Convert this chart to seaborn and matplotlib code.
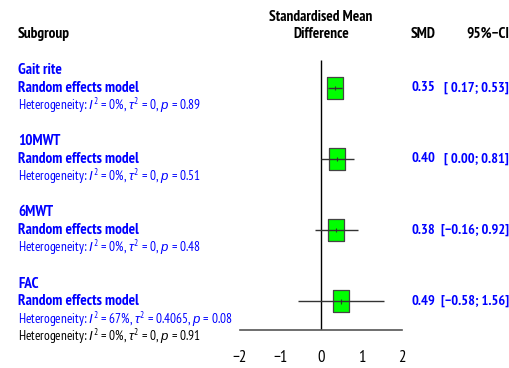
import matplotlib
matplotlib.use("Agg")
import matplotlib.pyplot as plt
import matplotlib.transforms as mtransforms
import seaborn as sns
import pandas as pd

# ---------------- data ----------------
subgroups = ["Gait rite", "10MWT", "6MWT", "FAC"]
smd = [0.35, 0.40, 0.38, 0.49]
ci_lower = [0.17, 0.00, -0.16, -0.58]
ci_upper = [0.53, 0.81, 0.92, 1.56]
het_i2 = ["0%", "0%", "0%", "67%"]
het_tau2 = ["0", "0", "0", "0.4065"]
het_p = ["0.89", "0.51", "0.48", "0.08"]
overall_i2, overall_tau2, overall_p = "0%", "0", "0.91"
x_ticks = [-2, -1, 0, 1, 2]

sns.set_style("white")
FONT = ["Liberation Sans Narrow", "Arial Narrow", "PT Sans Narrow", "Liberation Sans", "DejaVu Sans"]
plt.rcParams["font.family"] = FONT
plt.rcParams["mathtext.fontset"] = "custom"
plt.rcParams["mathtext.rm"] = "PT Sans Narrow"
plt.rcParams["mathtext.it"] = "Liberation Sans:italic"

BLUE = "#0000FF"
FS_B = 11.0
FS_R = 9.5
FS_NUM = 10.4

rows = []
for i, g in enumerate(subgroups):
    base = 4 * i
    rows.append(dict(label=g, k_label=base, k_model=base + 1, k_het=base + 2))
overall_k = 4 * len(subgroups) - 1

df = pd.DataFrame({
    "subgroup": subgroups,
    "smd": smd,
    "lo": ci_lower,
    "hi": ci_upper,
    "row": [r["k_model"] for r in rows],
})

W, H = 510, 368
fig = plt.figure(figsize=(W / 100, H / 100), dpi=100)

x0_px, x1_px = 240, 402
axis_px = 330
line0_px, line_step = 70, 17.8
k_bottom = (axis_px - line0_px) / line_step
k_top = (0 - line0_px) / line_step

ax = fig.add_axes([x0_px / W, 1 - axis_px / H, (x1_px - x0_px) / W, axis_px / H])

rect = [(-0.77, -1), (0.77, -1), (0.77, 1), (-0.77, 1), (-0.77, -1)]
sns.scatterplot(data=df, x="smd", y="row", marker=rect, s=230, color="#00FF00",
                edgecolor="#444444", linewidth=0.9, ax=ax, zorder=3, legend=False)
ax.hlines(df["row"], df["lo"], df["hi"], color="#333333", lw=1.0, zorder=4)
ax.vlines(df["smd"], df["row"] - 0.12, df["row"] + 0.12, color="#333333", lw=0.8, zorder=4)

ax.set_xlim(-2, 2)
ax.set_ylim(k_bottom, k_top)
for s in ["top", "left", "right"]:
    ax.spines[s].set_visible(False)
ax.spines["bottom"].set_color("#555555")
ax.spines["bottom"].set_linewidth(1.2)
ax.set_yticks([])
ax.set_xticks(x_ticks)
ax.set_xticklabels([str(t).replace("-", "\u2212") for t in x_ticks])
ax.tick_params(axis="x", direction="out", length=6.5, width=1.2, color="#555555",
               labelsize=12, pad=8, labelcolor="black")
ax.set_xlabel("")
ax.set_ylabel("")

ax.vlines(0, (60 - line0_px) / line_step, k_bottom, color="black", lw=1.0, zorder=1)

tr = mtransforms.blended_transform_factory(fig.transFigure, ax.transData)

def xf(px):
    return px / W

def put(xpx, k, s, ha="left", bold=True, color="black", fs=None):
    ax.text(xf(xpx), k, s, transform=tr, ha=ha, va="center",
            fontsize=fs if fs else (FS_B if bold else FS_R),
            fontweight="bold" if bold else "normal", color=color, clip_on=False)

put(321, -3.0, "Standardised Mean", ha="center")
put(321, -2.05, "Difference", ha="center")
put(18, -2.05, "Subgroup")
put(436, -2.05, "SMD", ha="right")
put(509, -2.05, "95%\u2212CI", ha="right")

def fmt(v):
    s = f"{v:.2f}"
    return s.replace("-", "\u2212") if v < 0 else " " + s

for r, m, lo, hi, i2, t2, p in zip(rows, smd, ci_lower, ci_upper, het_i2, het_tau2, het_p):
    put(18, r["k_label"], r["label"], color=BLUE)
    put(18, r["k_model"], "Random effects model", color=BLUE)
    put(18, r["k_het"], f"Heterogeneity: $I^2$ = {i2}, $\\tau^2$ = {t2}, $p$ = {p}",
        bold=False, color=BLUE)
    put(435, r["k_model"], f"{m:.2f}", ha="right", color=BLUE, fs=FS_NUM)
    put(509, r["k_model"], f"[{fmt(lo)}; {hi:.2f}]", ha="right", color=BLUE, fs=FS_NUM)

put(18, overall_k,
    f"Heterogeneity: $I^2$ = {overall_i2}, $\\tau^2$ = {overall_tau2}, $p$ = {overall_p}",
    bold=False, color="black")

fig.savefig("out.png", dpi=100)
